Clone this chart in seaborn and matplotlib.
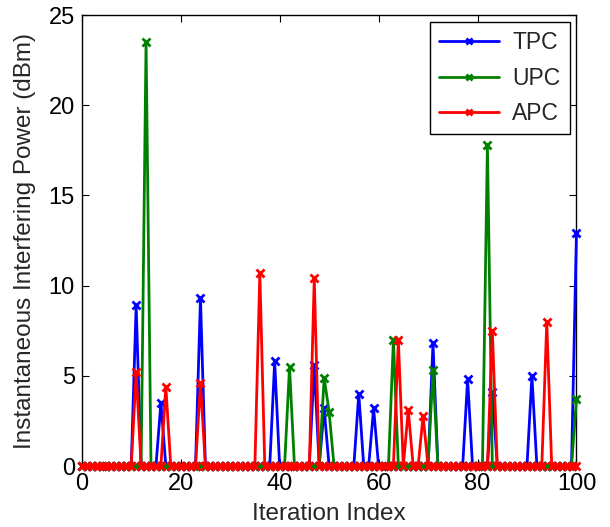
import numpy as np
import pandas as pd
import matplotlib
matplotlib.use('Agg')
import matplotlib.pyplot as plt
import seaborn as sns

# iterations and the non-zero spikes of each scheme (everything else is 0 dBm)
iterations = list(range(0, 101))

tpc_idx = [11, 16, 24, 39, 47, 49, 56, 59, 71, 78, 83, 91, 100]
tpc_val = [8.9, 3.5, 9.3, 5.8, 5.6, 3.2, 4.0, 3.2, 6.8, 4.8, 4.1, 5.0, 12.9]

upc_idx = [13, 42, 49, 50, 63, 71, 82, 100]
upc_val = [23.5, 5.5, 4.9, 3.0, 7.0, 5.3, 17.8, 3.7]

apc_idx = [11, 17, 24, 36, 47, 64, 66, 69, 83, 94]
apc_val = [5.2, 4.4, 4.6, 10.7, 10.4, 7.0, 3.1, 2.8, 7.5, 8.0]

series_names = ["TPC", "UPC", "APC"]
series_colors = ["#0000ff", "#008000", "#ff0000"]


def build(idx, val):
    y = np.zeros(len(iterations))
    for i, v in zip(idx, val):
        y[iterations.index(i)] = v
    return y


df = pd.DataFrame({
    "iteration": iterations,
    "TPC": build(tpc_idx, tpc_val),
    "UPC": build(upc_idx, upc_val),
    "APC": build(apc_idx, apc_val),
})

sns.set_theme(style="white")
plt.rcParams['font.family'] = ['Liberation Sans', 'DejaVu Sans']

fig = plt.figure(figsize=(6.1, 5.27), dpi=100)
ax = fig.add_axes([0.134, 0.1157, 0.811, 0.8558])

for name, color in zip(series_names, series_colors):
    sns.lineplot(data=df, x="iteration", y=name, ax=ax, color=color,
                 marker="x", markersize=6, markeredgewidth=2,
                 markeredgecolor=color, linewidth=2, clip_on=False,
                 label=name, zorder=3)

ax.set_xlim(0, 100)
ax.set_ylim(0, 25)
ax.set_xticks([0, 20, 40, 60, 80, 100])
ax.set_yticks([0, 5, 10, 15, 20, 25])
ax.set_xlabel("Iteration Index", fontsize=17.5, labelpad=6)
ax.set_ylabel("Instantaneous Interfering Power (dBm)", fontsize=17.5, labelpad=9)
ax.tick_params(direction="in", length=5, width=0.8, labelsize=17, pad=5,
               top=True, right=True, bottom=True, left=True, colors="black")
for s in ax.spines.values():
    s.set_color("black")
    s.set_linewidth(1.0)

leg = ax.legend(loc="upper right", fontsize=16.5, numpoints=1,
                fancybox=False, framealpha=1, edgecolor="black",
                handlelength=2.6, handletextpad=0.6, borderaxespad=0.3,
                labelspacing=0.55)
for h in leg.get_lines():
    h.set_markersize(5)
    h.set_linewidth(2)
    h.set_linestyle("-")
leg.get_frame().set_linewidth(1.0)
leg.set_zorder(5)

fig.savefig("out.png", dpi=100)
